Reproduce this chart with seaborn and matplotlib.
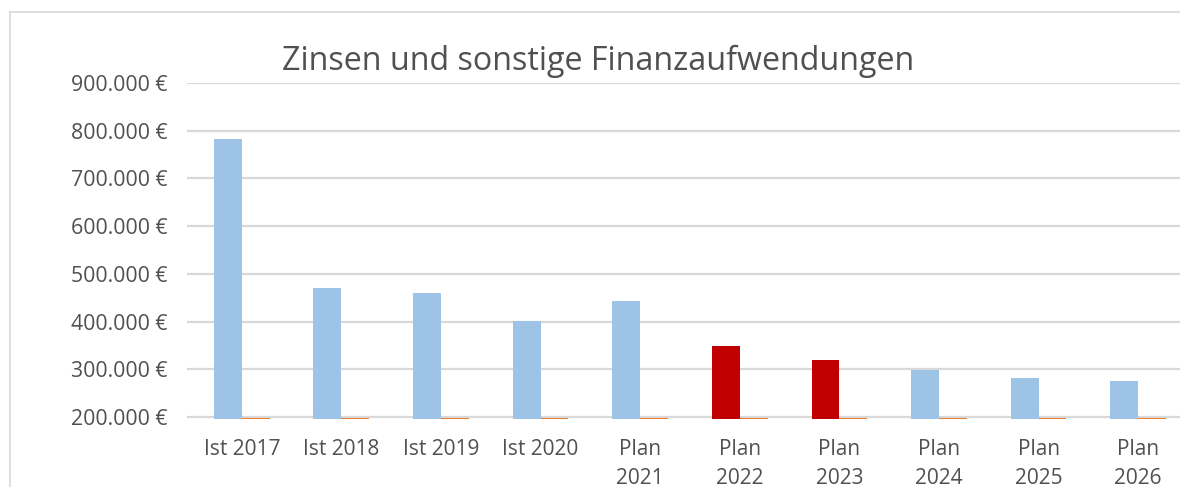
import pandas as pd
import matplotlib.pyplot as plt
import matplotlib.lines as mlines
from matplotlib.ticker import FuncFormatter
import seaborn as sns

# ---------------------- DATEN ----------------------
kategorien = ["Ist 2017", "Ist 2018", "Ist 2019", "Ist 2020", "Plan\n2021",
              "Plan\n2022", "Plan\n2023", "Plan\n2024", "Plan\n2025", "Plan\n2026"]
zinsen = [782000, 470000, 460000, 401000, 443000,
          349000, 319500, 298500, 282500, 275500]
# zweite Reihe liegt knapp unter der Achse (nur als Strich sichtbar)
sonstige = [198600] * 10
hervorgehoben = ["Plan\n2022", "Plan\n2023"]
y_ticks = [200000, 300000, 400000, 500000, 600000, 700000, 800000, 900000]
# ---------------------------------------------------

BLAU = "#9DC3E6"
ROT = "#C00000"
ORANGE = "#ED7D31"
GRAU = "#D9D9D9"
TEXT = "#505050"

df = pd.DataFrame({
    "Kategorie": kategorien * 2,
    "Reihe": ["Zinsen"] * len(kategorien) + ["Sonstige"] * len(kategorien),
    "Wert": zinsen + sonstige,
})

sns.set_theme(style="white")
plt.rcParams["font.family"] = ["Open Sans", "DejaVu Sans"]

fig = plt.figure(figsize=(11.8, 4.87), dpi=100)
ax = fig.add_axes([187 / 1180, 1 - 418.5 / 487, 1001 / 1180, (418.5 - 83) / 487])

sns.barplot(data=df, x="Kategorie", y="Wert", hue="Reihe",
            palette={"Zinsen": BLAU, "Sonstige": ORANGE},
            width=0.56, gap=0, saturation=1, legend=False, ax=ax,
            linewidth=0, zorder=3)

# hervorgehobene Jahre rot einfärben
for patch, kat in zip(ax.containers[0], kategorien):
    if kat in hervorgehoben:
        patch.set_facecolor(ROT)

ax.set_ylim(196800, 900000)
ax.set_xlim(-0.55, 9.5)
ax.set_yticks(y_ticks)
ax.yaxis.set_major_formatter(FuncFormatter(lambda v, p: f"{int(v):,} €".replace(",", ".")))
ax.grid(axis="y", color=GRAU, linewidth=1.6, zorder=0)
ax.grid(axis="x", visible=False)
for s in ax.spines.values():
    s.set_visible(False)
ax.tick_params(axis="y", length=0, pad=13.7, labelsize=15.3, labelcolor=TEXT)
ax.tick_params(axis="x", length=0, pad=15, labelsize=15, labelcolor=TEXT)
ax.set_xlabel("")
ax.set_ylabel("")
for lbl in ax.get_xticklabels():
    lbl.set_linespacing(1.45)

fig.text(598 / 1180, 1 - 70 / 487, "Zinsen und sonstige Finanzaufwendungen",
         ha="center", va="baseline", fontsize=23.2, color=TEXT)

# Rahmen des Diagrammbereichs
fig.add_artist(mlines.Line2D([10 / 1180, 10 / 1180], [0, 1 - 12 / 487],
                             color=GRAU, linewidth=1.2, transform=fig.transFigure))
fig.add_artist(mlines.Line2D([10 / 1180, 1], [1 - 12 / 487, 1 - 12 / 487],
                             color=GRAU, linewidth=1.2, transform=fig.transFigure))

fig.savefig("out.png", dpi=100)
